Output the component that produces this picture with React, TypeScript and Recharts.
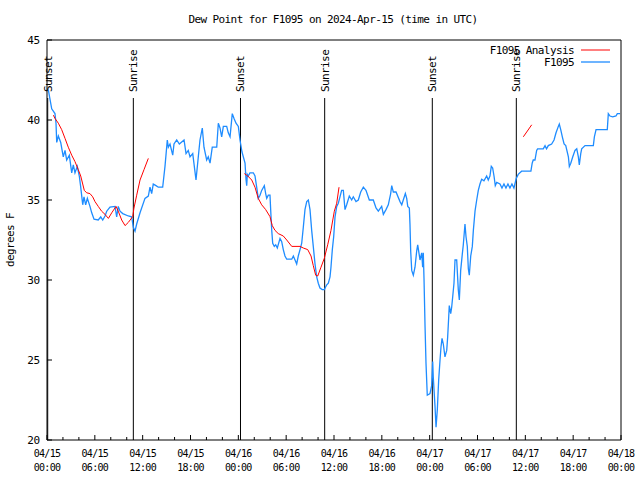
import React from "react";
import { LineChart, Line, XAxis, YAxis, ReferenceLine } from "recharts";

// hours since 2024-04-15 00:00 UTC, dew point in degrees F
const f1095Obs: [number, number][] = [
  [0.16, 41.9], [0.59, 40.7], [1.0, 40.4], [1.13, 39.8], [1.22, 38.6], [1.42, 39.0],
  [1.72, 38.6], [2.04, 37.7], [2.26, 38.1], [2.47, 37.5], [2.8, 37.8], [3.1, 36.7],
  [3.3, 37.2], [3.51, 36.7], [3.8, 37.1], [4.05, 36.5], [4.23, 35.8], [4.48, 34.7],
  [4.64, 35.2], [4.85, 34.7], [5.06, 35.1], [5.39, 34.6], [5.61, 34.2], [5.9, 33.8],
  [6.43, 33.75], [6.74, 33.95], [6.99, 33.75], [7.28, 34.0], [7.49, 34.3], [7.9, 34.55],
  [8.53, 34.6], [8.74, 33.95], [8.94, 34.6], [9.16, 34.3], [9.5, 34.15], [10.2, 34.0],
  [10.62, 33.95], [10.83, 33.3], [11.04, 33.05], [11.25, 33.5], [11.67, 34.2], [12.29, 35.1],
  [12.71, 35.25], [12.92, 35.8], [13.13, 35.4], [13.33, 36.0], [13.67, 35.9], [13.96, 35.8],
  [14.51, 35.8], [14.8, 37.1], [15.09, 38.75], [15.22, 38.3], [15.43, 38.5], [15.77, 37.8],
  [15.93, 38.5], [16.27, 38.75], [16.6, 38.5], [17.19, 38.75], [17.44, 37.9], [17.72, 38.1],
  [17.94, 37.7], [18.28, 37.9], [18.69, 36.25], [18.98, 37.7], [19.19, 38.75], [19.48, 39.5],
  [19.69, 38.3], [20.03, 37.5], [20.23, 37.7], [20.45, 37.3], [20.73, 38.3], [21.29, 38.3],
  [21.49, 39.8], [21.7, 39.5], [21.91, 38.95], [22.12, 39.6], [22.54, 39.6], [22.74, 39.2],
  [22.96, 38.95], [23.24, 40.4], [23.46, 40.1], [23.71, 39.8], [24.0, 39.6], [24.21, 38.75],
  [24.46, 38.0], [24.84, 37.3], [24.96, 36.3], [25.05, 35.9], [25.13, 36.6], [25.25, 36.5],
  [25.46, 36.7], [25.88, 36.7], [26.09, 36.5], [26.3, 35.8], [26.5, 35.1], [26.72, 35.3],
  [26.93, 35.6], [27.26, 35.9], [27.43, 35.4], [27.56, 35.1], [27.76, 35.3], [27.97, 35.3],
  [28.1, 33.95], [28.19, 33.1], [28.31, 32.3], [28.51, 32.1], [28.69, 32.2], [28.89, 32.0],
  [29.23, 32.6], [29.44, 32.4], [29.64, 31.9], [29.85, 31.5], [30.07, 31.3], [30.7, 31.3],
  [30.9, 31.5], [31.11, 31.25], [31.32, 31.0], [31.52, 31.5], [31.74, 31.9], [31.95, 32.3],
  [32.15, 33.3], [32.36, 34.4], [32.58, 34.9], [32.78, 35.0], [32.99, 34.4], [33.2, 33.1],
  [33.4, 32.1], [33.62, 31.0], [33.83, 30.2], [34.03, 29.8], [34.24, 29.5], [34.53, 29.4],
  [34.78, 29.4], [35.09, 29.7], [35.29, 29.8], [35.5, 30.2], [35.62, 30.8], [35.79, 31.9],
  [35.96, 32.7], [36.13, 33.95], [36.34, 34.6], [36.54, 34.8], [36.75, 35.2], [36.96, 35.6],
  [37.17, 35.6], [37.38, 34.4], [37.59, 34.7], [37.92, 35.25], [38.22, 35.0], [38.42, 35.2],
  [38.76, 34.9], [39.05, 35.0], [39.35, 35.5], [39.68, 35.8], [40.01, 35.6], [40.43, 35.0],
  [40.93, 35.0], [41.27, 34.5], [41.56, 34.3], [41.98, 34.6], [42.19, 34.1], [42.52, 34.4],
  [42.81, 34.7], [43.11, 35.4], [43.24, 35.9], [43.44, 35.5], [43.78, 35.5], [44.28, 34.9],
  [44.5, 34.7], [44.95, 35.4], [45.12, 35.1], [45.25, 34.6], [45.45, 34.5], [45.53, 33.5],
  [45.62, 31.8], [45.75, 30.6], [45.95, 30.3], [46.16, 30.8], [46.37, 31.8], [46.5, 32.2],
  [46.79, 31.25], [47.0, 31.7], [47.12, 30.8], [47.2, 31.7], [47.29, 30.1], [47.42, 27.1],
  [47.54, 24.8], [47.7, 22.8], [48.04, 22.9], [48.25, 23.4], [48.38, 24.9], [48.45, 23.95],
  [48.67, 22.1], [48.8, 20.8], [48.96, 21.9], [49.13, 23.75], [49.3, 25.0], [49.42, 25.8],
  [49.55, 26.35], [49.71, 26.0], [49.92, 25.2], [50.14, 25.6], [50.26, 26.45], [50.39, 27.7],
  [50.46, 28.4], [50.64, 27.9], [50.76, 28.3], [50.89, 28.95], [51.05, 29.8], [51.18, 31.25],
  [51.39, 31.25], [51.59, 29.4], [51.72, 28.75], [51.89, 30.6], [52.09, 31.6], [52.22, 32.2],
  [52.43, 33.5], [52.56, 32.7], [52.72, 32.1], [52.85, 30.7], [52.97, 30.3], [53.15, 31.5],
  [53.35, 32.1], [53.48, 33.1], [53.69, 34.3], [53.9, 35.0], [54.1, 35.6], [54.31, 36.0],
  [54.52, 36.3], [54.81, 36.2], [55.15, 36.5], [55.35, 36.25], [55.56, 36.5], [55.73, 37.1],
  [55.9, 37.0], [56.07, 36.5], [56.23, 35.9], [56.41, 36.1], [56.82, 36.0], [57.07, 35.75],
  [57.32, 36.0], [57.57, 35.75], [57.82, 36.0], [58.07, 35.75], [58.32, 36.0], [58.57, 35.75],
  [58.86, 36.35], [59.11, 36.6], [59.53, 36.8], [60.7, 36.8], [60.86, 37.3], [60.99, 37.5],
  [61.21, 37.5], [61.42, 38.1], [61.54, 38.2], [62.25, 38.2], [62.47, 38.4], [62.66, 38.2],
  [62.88, 38.4], [63.3, 38.5], [63.6, 38.75], [63.85, 39.2], [64.14, 39.6], [64.26, 39.75],
  [64.44, 39.4], [64.64, 38.95], [64.86, 38.5], [65.07, 38.4], [65.4, 37.7], [65.52, 37.1],
  [65.7, 37.3], [65.95, 37.7], [66.23, 38.1], [66.45, 38.2], [66.65, 37.7], [66.77, 37.2],
  [66.95, 37.9], [67.07, 38.2], [67.49, 38.4], [68.53, 38.4], [68.66, 38.95], [68.87, 39.4],
  [70.28, 39.4], [70.41, 40.4], [70.62, 40.25], [70.96, 40.2], [71.37, 40.25], [71.54, 40.4],
  [71.88, 40.4],
];

// analysis has gaps (null breaks the line)
const f1095Analysis: [number, number | null][] = [
  [0.8, 40.3], [1.0, 40.1], [1.42, 39.8], [1.84, 39.4], [2.26, 38.85], [2.67, 38.3],
  [3.1, 37.8], [3.51, 37.4], [3.92, 36.9], [4.23, 36.5], [4.48, 36.0], [4.68, 35.6],
  [4.98, 35.45], [5.39, 35.4], [5.73, 35.2], [6.02, 34.9], [6.43, 34.6], [6.85, 34.3],
  [7.28, 34.1], [7.7, 33.85], [8.12, 34.2], [8.66, 34.6], [8.94, 34.3], [9.37, 33.75],
  [9.79, 33.4], [10.2, 33.6], [10.75, 33.96], [10.91, 34.5], [11.25, 35.3], [11.67, 36.25],
  [12.17, 36.9], [12.71, 37.6],
  [13.0, null],
  [24.75, 36.65], [25.18, 36.5], [25.68, 36.25], [26.09, 35.8], [26.5, 35.1], [26.93, 34.7],
  [27.43, 34.4], [27.97, 33.96], [28.26, 33.4], [28.6, 33.1], [29.01, 32.9], [29.64, 32.75],
  [30.07, 32.5], [30.7, 32.1], [31.74, 32.1], [32.15, 32.0], [32.7, 31.9], [33.12, 31.5],
  [33.4, 30.9], [33.7, 30.3], [33.96, 30.25], [34.37, 30.8], [34.78, 31.35], [35.21, 32.2],
  [35.62, 33.1], [36.04, 34.3], [36.34, 34.8], [36.63, 35.8],
  [37.0, null],
  [59.75, 38.95], [60.8, 39.7],
];

const sunHours = [0.09, 10.83, 24.27, 34.83, 48.33, 58.87];
const sunNames = ["Sunset", "Sunrise", "Sunset", "Sunrise", "Sunset", "Sunrise"];

const hourTicks = [0, 2, 4, 6, 8, 10, 12, 14, 16, 18, 20, 22, 24, 26, 28, 30, 32, 34, 36,
  38, 40, 42, 44, 46, 48, 50, 52, 54, 56, 58, 60, 62, 64, 66, 68, 70, 72];
const dateLabels = ["04/15", "04/15", "04/15", "04/15", "04/16", "04/16", "04/16", "04/16",
  "04/17", "04/17", "04/17", "04/17", "04/18"];
const timeLabels = ["00:00", "06:00", "12:00", "18:00", "00:00", "06:00", "12:00", "18:00",
  "00:00", "06:00", "12:00", "18:00", "00:00"];
const dewTicks = [20, 25, 30, 35, 40, 45];
const seriesNames = ["F1095 Analysis", "F1095"];

const FONT = "'DejaVu Sans Mono', monospace";
const OBS_COLOR = "#1e8cff";
const ANA_COLOR = "#ff0000";
const SUN_LINE_TOP = 41.375;

const obsData = f1095Obs.map(([h, v]) => ({ h, v }));
const anaData = f1095Analysis.map(([h, v]) => ({ h, v }));

function BottomTick(props: any) {
  const { x, y, payload } = props;
  const major = payload.value % 6 === 0;
  const i = payload.value / 6;
  return (
    <g>
      <line x1={x} y1={y} x2={x} y2={y - (major ? 5 : 3)} stroke="#000" />
      {major && (
        <text x={x} y={y + 17} textAnchor="middle" fontFamily={FONT} fontSize={10} letterSpacing={-0.7} fill="#000">
          <tspan x={x}>{dateLabels[i]}</tspan>
          <tspan x={x} dy={14}>{timeLabels[i]}</tspan>
        </text>
      )}
    </g>
  );
}

function TopTick(props: any) {
  const { x, y, payload } = props;
  const major = payload.value % 6 === 0;
  return <line x1={x} y1={y} x2={x} y2={y + (major ? 5 : 3)} stroke="#000" />;
}

function LeftTick(props: any) {
  const { x, y, payload } = props;
  return (
    <g>
      <line x1={x} y1={y} x2={x + 5} y2={y} stroke="#000" />
      <text x={x - 7} y={y} dy="0.35em" textAnchor="end" fontFamily={FONT} fontSize={11} letterSpacing={-0.2} fill="#000">
        {payload.value}
      </text>
    </g>
  );
}

function RightTick(props: any) {
  const { x, y } = props;
  return <line x1={x} y1={y} x2={x - 5} y2={y} stroke="#000" />;
}

function SunLabel(props: any) {
  const vb = props.viewBox || props;
  const x = vb.x;
  const y = vb.y - 6;
  return (
    <text x={x} y={y} transform={`rotate(-90 ${x} ${y})`} textAnchor="start" dy="0.35em"
      fontFamily={FONT} fontSize={11} letterSpacing={-0.6} fill="#000">
      {props.text}
    </text>
  );
}

export default function App() {
  return (
    <div style={{ position: "absolute", left: 0, top: 0, width: 640, height: 480, background: "#fff" }}>
      <LineChart width={640} height={480} margin={{ top: 30, right: 9, bottom: 10, left: 17 }}>
        <XAxis dataKey="h" type="number" domain={[0, 72]} ticks={hourTicks} interval={0}
          height={30} tickSize={0} tickMargin={0} tick={<BottomTick />} axisLine={{ stroke: "#000" }} tickLine={false} />
        <XAxis xAxisId="top" orientation="top" dataKey="h" type="number" domain={[0, 72]} ticks={hourTicks}
          interval={0} height={10} tickSize={0} tickMargin={0} tick={<TopTick />} axisLine={{ stroke: "#000" }} tickLine={false} />
        <YAxis type="number" domain={[20, 45]} ticks={dewTicks} interval={0} width={30} tickSize={0}
          tickMargin={0} tick={<LeftTick />} axisLine={{ stroke: "#000" }} tickLine={false} />
        <YAxis yAxisId="right" orientation="right" type="number" domain={[20, 45]} ticks={dewTicks}
          interval={0} width={10} tickSize={0} tickMargin={0} tick={<RightTick />} axisLine={{ stroke: "#000" }} tickLine={false} />
        {sunHours.map((h, i) => (
          <ReferenceLine key={i} segment={[{ x: h, y: SUN_LINE_TOP }, { x: h, y: 20 }]} stroke="#000"
            strokeWidth={1} ifOverflow="visible" label={<SunLabel text={sunNames[i]} />} />
        ))}
        <Line data={obsData} dataKey="v" type="linear" stroke={OBS_COLOR} strokeWidth={1.3}
          dot={false} isAnimationActive={false} />
        <Line data={anaData} dataKey="v" type="linear" stroke={ANA_COLOR} strokeWidth={1}
          dot={false} connectNulls={false} isAnimationActive={false} />
      </LineChart>
      <svg width={640} height={480} style={{ position: "absolute", left: 0, top: 0, pointerEvents: "none" }}>
        <g fontFamily={FONT} fontSize={11} letterSpacing={-0.6} fill="#000">
          <text x={333} y={19} textAnchor="middle" dy="0.35em">
            Dew Point for F1095 on 2024-Apr-15 (time in UTC)
          </text>
          <text x={10} y={240} textAnchor="middle" dy="0.35em" transform="rotate(-90 10 240)">
            degrees F
          </text>
          <text x={574} y={50} textAnchor="end" dy="0.35em">{seriesNames[0]}</text>
          <text x={574} y={62} textAnchor="end" dy="0.35em">{seriesNames[1]}</text>
        </g>
        <line x1={581} x2={610} y1={50} y2={50} stroke={ANA_COLOR} strokeWidth={1} />
        <line x1={581} x2={610} y1={62} y2={62} stroke={OBS_COLOR} strokeWidth={1.3} />
      </svg>
    </div>
  );
}
